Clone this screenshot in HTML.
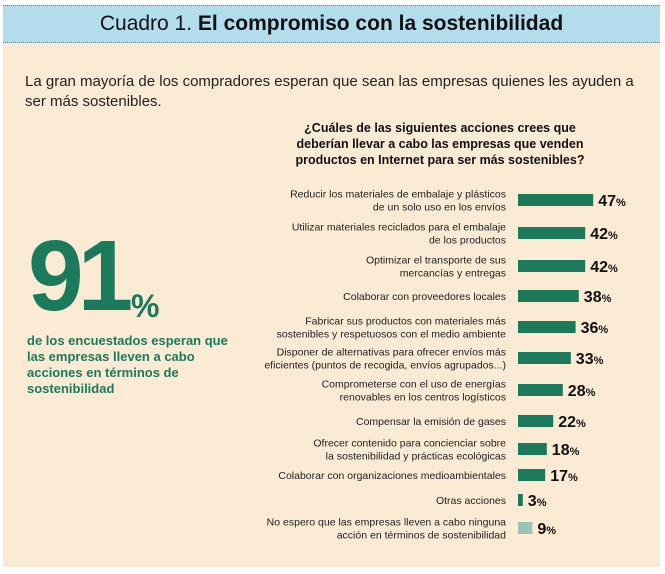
<!DOCTYPE html>
<html><head><meta charset="utf-8">
<style>
body{margin:0;background:#fff;width:665px;height:574px;overflow:hidden;font-family:"Liberation Sans",sans-serif;}
#panel{position:absolute;left:3px;top:5px;width:657px;height:562px;background:#fbebd5;}
#band{position:absolute;left:3px;top:5px;width:657px;height:38px;background:#b3dced;border-top:1px dotted #777;border-bottom:1px dotted #777;box-sizing:border-box;text-align:center;font-size:21px;line-height:36px;color:#111;}
#band b{font-weight:bold;}
#intro{position:absolute;left:25px;top:72px;width:620px;font-size:15px;line-height:20px;color:#222;}
#q{position:absolute;left:280px;top:120px;width:320px;text-align:center;font-size:12.5px;font-weight:bold;line-height:16px;color:#111;}
#big{position:absolute;left:28px;top:226px;font-size:100px;font-weight:bold;color:#1b7a5c;letter-spacing:-6px;line-height:100px;}
#pct{position:absolute;left:131px;top:288px;font-size:32px;font-weight:bold;color:#1b7a5c;}
#sub{position:absolute;left:27px;top:333px;font-size:13px;font-weight:bold;line-height:16px;color:#1b7a5c;width:210px;}
svg{position:absolute;left:0;top:0;}
</style></head><body>
<div id="panel"></div>
<div id="band">Cuadro 1. <b>El compromiso con la sostenibilidad</b></div>
<div id="intro">La gran mayoría de los compradores esperan que sean las empresas quienes les ayuden a ser más sostenibles.</div>
<div id="q">¿Cuáles de las siguientes acciones crees que deberían llevar a cabo las empresas que venden productos en Internet para ser más sostenibles?</div>
<div id="big">91</div>
<div id="pct">%</div>
<div id="sub">de los encuestados esperan que las empresas lleven a cabo acciones en términos de sostenibilidad</div>
<svg id="chart" width="665" height="574"></svg>
<script>
const categories=[
["Reducir los materiales de embalaje y plásticos","de un solo uso en los envíos"],
["Utilizar materiales reciclados para el embalaje","de los productos"],
["Optimizar el transporte de sus","mercancías y entregas"],
["Colaborar con proveedores locales"],
["Fabricar sus productos con materiales más","sostenibles y respetuosos con el medio ambiente"],
["Disponer de alternativas para ofrecer envíos más","eficientes (puntos de recogida, envíos agrupados...)"],
["Comprometerse con el uso de energías","renovables en los centros logísticos"],
["Compensar la emisión de gases"],
["Ofrecer contenido para concienciar sobre","la sostenibilidad y prácticas ecológicas"],
["Colaborar con organizaciones medioambientales"],
["Otras acciones"],
["No espero que las empresas lleven a cabo ninguna","acción en términos de sostenibilidad"]
];
const values=[47,42,42,38,36,33,28,22,18,17,3,9];
const rowCenters=[200,233,266,296,327,358,390,421,449,475,500,528];
const NS="http://www.w3.org/2000/svg";
const svg=document.getElementById('chart');
const x0=518, scale=1.6;
function xs(v){return v*scale;}
values.forEach((v,i)=>{
  const cy=rowCenters[i];
  const r=document.createElementNS(NS,'rect');
  
  
  r.setAttribute('x',x0);r.setAttribute('y',cy-6);
  r.setAttribute('width',xs(v));r.setAttribute('height',12);
  r.setAttribute('fill',i===values.length-1?'#9cc4b4':'#1b7a5c');
  svg.appendChild(r);
  const t=document.createElementNS(NS,'text');
  
  
  t.setAttribute('x',x0+xs(v)+5);t.setAttribute('y',cy+6);
  t.setAttribute('font-size','16');t.setAttribute('font-weight','bold');t.setAttribute('fill','#111');
  t.setAttribute('font-family','Liberation Sans, sans-serif');
  t.innerHTML=v+'<tspan font-size="11">%</tspan>';
  svg.appendChild(t);
  const lines=categories[i];
  const lbl=document.createElementNS(NS,'text');
  
  
  lbl.setAttribute('text-anchor','end');lbl.setAttribute('font-size','10.5');lbl.setAttribute('fill','#222');
  lbl.setAttribute('font-family','Liberation Sans, sans-serif');
  const start=cy+4-(lines.length-1)*6.5;
  lines.forEach((ln,j)=>{
    const ts=document.createElementNS(NS,'tspan');
    ts.setAttribute('x',506);ts.setAttribute('y',start+j*13);
    ts.textContent=ln;lbl.appendChild(ts);
  });
  svg.appendChild(lbl);
});
</script>
</body></html>
